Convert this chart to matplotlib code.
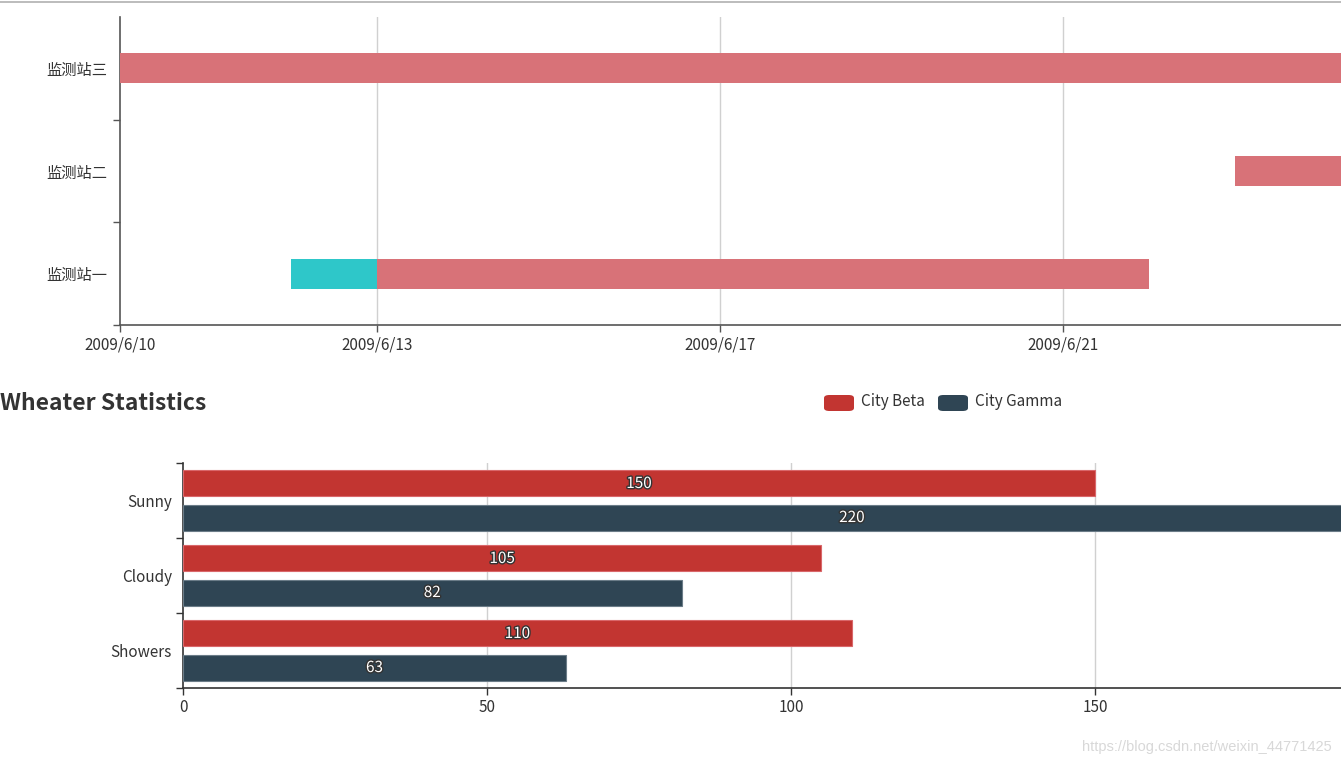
import matplotlib.pyplot as plt
import matplotlib.dates as mdates
import matplotlib.patheffects as pe
from matplotlib.patches import FancyBboxPatch
from matplotlib.lines import Line2D
from datetime import datetime

plt.rcParams['font.family'] = ['Noto Sans CJK SC', 'DejaVu Sans']

# ---- 数据：甘特图 ----
stations = ['监测站一', '监测站二', '监测站三']
seg_station = [0, 0, 1, 2]
seg_start = ['2009-06-12', '2009-06-13', '2009-06-23', '2009-06-10']
seg_end = ['2009-06-13', '2009-06-22', '2009-06-26', '2009-06-26']
seg_kind = ['pre', 'main', 'main', 'main']
date_ticks = ['2009-06-10', '2009-06-13', '2009-06-17', '2009-06-21']
date_range = ['2009-06-10', '2009-06-25']

# ---- 数据：天气统计 ----
weather = ['Sunny', 'Cloudy', 'Showers']
city_beta = [150, 105, 110]
city_gamma = [220, 82, 63]
value_ticks = [0, 50, 100, 150]
value_range = [0, 250]

kind_color = {'pre': '#2ec7c9', 'main': '#d87278'}
BETA = '#c23531'
GAMMA = '#2f4554'
TXT = '#333333'

W, H = 1341, 766
fig = plt.figure(figsize=(W / 100, H / 100), dpi=100)


def box(x0, y0, x1, y1):
    # 像素坐标 -> figure 坐标
    return [x0 / W, 1 - y1 / H, (x1 - x0) / W, (y1 - y0) / H]


def d(s):
    return mdates.date2num(datetime.strptime(s, '%Y-%m-%d'))


# 页面顶部边线
fig.add_artist(Line2D([0, 1], [1 - 1.5 / H, 1 - 1.5 / H], color='#b0b0b0', lw=1.2,
                      transform=fig.transFigure))

# ---------------- 上图：甘特 ----------------
ax1 = fig.add_axes(box(120, 17, 1406, 325))
for st, s0, s1, k in zip(seg_station, seg_start, seg_end, seg_kind):
    ax1.barh(st, d(s1) - d(s0), left=d(s0), height=0.29,
             color=kind_color[k], zorder=3)
ax1.set_xlim(d(date_range[0]), d(date_range[1]))
ax1.set_ylim(-0.5, 2.5)
ax1.set_xticks([d(t) for t in date_ticks])
ax1.set_xticklabels([datetime.strptime(t, '%Y-%m-%d').strftime('%Y/%-m/%-d') for t in date_ticks])
ax1.set_yticks([-0.5, 0.5, 1.5])
ax1.set_yticklabels([])
ax1.set_yticks(range(len(stations)), minor=True)
ax1.set_yticklabels(stations, minor=True)
ax1.tick_params(axis='y', which='major', length=5, width=1, color='#555555', direction='out')
ax1.tick_params(axis='y', which='minor', length=0, pad=9, labelsize=11, labelcolor=TXT)
ax1.tick_params(axis='x', length=5, width=1, color='#555555', pad=3, labelsize=11, labelcolor=TXT)
for t in date_ticks[1:]:
    ax1.axvline(d(t), color='#d0d0d0', lw=1, zorder=1)
for sp in ['top', 'right']:
    ax1.spines[sp].set_visible(False)
for sp in ['left', 'bottom']:
    ax1.spines[sp].set_color('#555555')
    ax1.spines[sp].set_linewidth(1.2)

# ---------------- 下图：天气统计 ----------------
ax2 = fig.add_axes(box(183, 463, 1703, 688))
ypos = list(range(len(weather)))
off = 0.227
bh = 0.347
b1 = ax2.barh([y - off for y in ypos], city_beta, height=bh, color=BETA,
              edgecolor='#d9676a', linewidth=0.8, zorder=3)
b2 = ax2.barh([y + off for y in ypos], city_gamma, height=bh, color=GAMMA,
              edgecolor='#6b7c88', linewidth=0.8, zorder=3)
for bars, vals in [(b1, city_beta), (b2, city_gamma)]:
    for bar, v in zip(bars, vals):
        ax2.text(bar.get_x() + bar.get_width() / 2, bar.get_y() + bar.get_height() / 2,
                 str(v), ha='center', va='center', color='white', fontsize=11,
                 zorder=4, path_effects=[pe.withStroke(linewidth=2, foreground='#333333')])
ax2.set_xlim(*value_range)
ax2.set_ylim(2.5, -0.5)
ax2.set_xticks(value_ticks)
ax2.set_yticks([-0.5, 0.5, 1.5, 2.5])
ax2.set_yticklabels([])
ax2.set_yticks(ypos, minor=True)
ax2.set_yticklabels(weather, minor=True)
ax2.tick_params(axis='y', which='major', length=5, width=1, color=TXT, direction='out')
ax2.tick_params(axis='y', which='minor', length=0, pad=8, labelsize=11, labelcolor=TXT)
ax2.tick_params(axis='x', length=5, width=1, color=TXT, pad=3, labelsize=11, labelcolor=TXT)
for t in value_ticks[1:] + [200]:
    ax2.axvline(t, color='#d0d0d0', lw=1, zorder=1)
for sp in ['top', 'right']:
    ax2.spines[sp].set_visible(False)
for sp in ['left', 'bottom']:
    ax2.spines[sp].set_color(TXT)
    ax2.spines[sp].set_linewidth(1.2)

# 标题
fig.text(0 / W, 1 - 403 / H, 'Wheater Statistics', fontsize=16.5, fontweight='bold',
         color=TXT, ha='left', va='center')

# 图例
for x0, lab, c in [(824, 'City Beta', BETA), (938, 'City Gamma', GAMMA)]:
    fig.add_artist(FancyBboxPatch((x0 / W, 1 - 411 / H), 30 / W, 16 / H,
                                  boxstyle='round,pad=0,rounding_size=0.004',
                                  facecolor=c, edgecolor='none', transform=fig.transFigure))
    fig.text((x0 + 37) / W, 1 - 402 / H, lab, fontsize=11, color=TXT,
             ha='left', va='center')

# 水印
fig.text(1332 / W, 1 - 747 / H, 'https://blog.csdn.net/weixin_44771425', fontsize=10.5,
         color='#d8d8d8', ha='right', va='center', family=['Liberation Sans', 'DejaVu Sans'])

fig.savefig('out.png', dpi=100)
